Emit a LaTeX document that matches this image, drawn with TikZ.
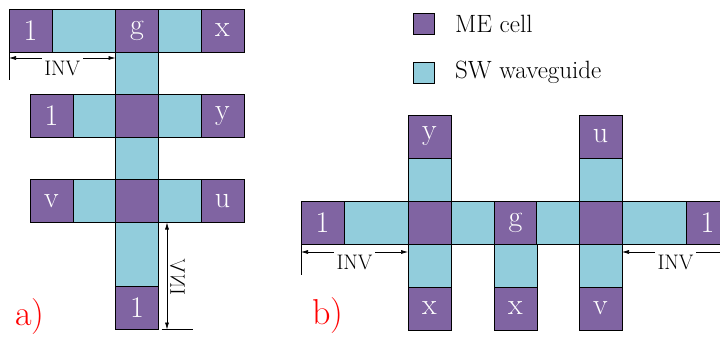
\documentclass[tikz,border=0pt]{standalone}
\usepackage{tikz}
\usetikzlibrary{arrows.meta, calc, positioning}

\definecolor{mepurple}{HTML}{8064A2}
\definecolor{swcyan}{HTML}{92CDDC}

\tikzset{
  cellbase/.style={draw=black, line width=0.8pt, inner sep=0pt, outer sep=0pt,
    minimum width=43pt, minimum height=43pt, text=white, font=\fontsize{30}{32}\selectfont},
  mecell/.style={cellbase, fill=mepurple},
  wguide/.style={cellbase, fill=swcyan},
  dimline/.style={line width=0.6pt, {Latex[length=7pt,width=4pt]}-{Latex[length=7pt,width=4pt]}},
  tickline/.style={line width=1pt},
  invtext/.style={fill=white, inner sep=2.5pt, font=\fontsize{21}{23}\selectfont},
  legendtext/.style={inner sep=3pt, font=\fontsize{25}{27}\selectfont},
  panellabel/.style={text=red, inner sep=0pt, font=\fontsize{36}{38}\selectfont},
}

\begin{document}
\begin{tikzpicture}[x=1pt, y=-1pt]
    \useasboundingbox (0,0) rectangle (720,338);
    \clip (0,0) rectangle (720,338);

    % a) 第一行
    \node[mecell] (a1) at (30.5,30.5) {1};
    \node[wguide, minimum width=64pt] (aw1) at (84,30.5) {};
    \node[mecell] (ag) at (137,30.5) {g};
    \node[wguide] (aw2) at (179.5,30.5) {};
    \node[mecell] (ax) at (222.5,30.5) {x};
    \node[wguide] (at1) at (137,73.5) {};

    % a) 第二行
    \node[mecell] (a1y) at (51.5,116) {1};
    \node[wguide] (aw3) at (94.5,116) {};
    \node[mecell] (ac1) at (137,116) {};
    \node[wguide] (aw4) at (179.5,116) {};
    \node[mecell] (ay) at (222.5,116) {y};
    \node[wguide] (at2) at (137,158.5) {};

    % a) 第三行
    \node[mecell] (av) at (51.5,201) {v};
    \node[wguide] (aw5) at (94.5,201) {};
    \node[mecell] (ac2) at (137,201) {};
    \node[wguide] (aw6) at (179.5,201) {};
    \node[mecell] (au) at (222.5,201) {u};
    \node[wguide, minimum height=65pt] (at3) at (137,254.5) {};
    \node[mecell] (a1b) at (137,308) {1};

    % a) INV 标注
    \coordinate (inva1) at ($(a1.south west)+(0,6)$);
    \coordinate (inva2) at (inva1 -| ag.west);
    \draw[tickline] (a1.south west) -- ++(0,28);
    \draw[dimline] (inva1) -- node[invtext, yshift=-10pt] (invatext) {INV} (inva2);

    \coordinate (invb1) at ($(aw6.south west)+(9,0)$);
    \coordinate (invb2) at (invb1 |- a1b.south);
    \draw[dimline] (invb1) -- (invb2);
    \draw[tickline] ($(a1b.south east)+(3,0)$) -- ++(31,0);
    \node[invtext, fill=none, rotate=90] (invbtext) at (177.5,277) {\scalebox{1}[-1]{INV}};

    % b) 横向波导
    \node[mecell] (b1l) at (322.5,222.5) {1};
    \node[wguide, minimum width=64pt] (bw1) at (376,222.5) {};
    \node[mecell] (bc1) at (429.5,222.5) {};
    \node[wguide] (bw2) at (472.5,222.5) {};
    \node[mecell] (bg) at (515.5,222.5) {g};
    \node[wguide] (bw3) at (558,222.5) {};
    \node[mecell] (bc2) at (600.5,222.5) {};
    \node[wguide, minimum width=64pt] (bw4) at (654,222.5) {};
    \node[mecell] (b1r) at (707.5,222.5) {1};

    % b) 纵向分支
    \node[mecell] (by) at (429.5,136.5) {y};
    \node[wguide] (bt1) at (429.5,179.5) {};
    \node[wguide] (bt2) at (429.5,265.5) {};
    \node[mecell] (bx1) at (429.5,308.5) {x};
    \node[wguide] (bt3) at (515.5,265.5) {};
    \node[mecell] (bx2) at (515.5,308.5) {x};
    \node[mecell] (bu) at (600.5,136.5) {u};
    \node[wguide] (bt4) at (600.5,179.5) {};
    \node[wguide] (bt5) at (600.5,265.5) {};
    \node[mecell] (bv) at (600.5,308.5) {v};

    % b) INV 标注
    \coordinate (invc1) at ($(b1l.south west)+(0,8)$);
    \coordinate (invc2) at (invc1 -| bc1.west);
    \draw[tickline] (b1l.south west) -- ++(0,31);
    \draw[dimline] (invc1) -- node[invtext, yshift=-10pt] (invctext) {INV} (invc2);

    \coordinate (invd1) at ($(bc2.south east)+(0,8)$);
    \coordinate (invd2) at (invd1 -| b1r.east);
    \draw[tickline] (b1r.south east) -- ++(0,31);
    \draw[dimline] (invd1) -- node[invtext, yshift=-10pt] (invdtext) {INV} (invd2);

    % 图例
    \node[mecell, minimum size=21pt] (mesq) at (423.5,23.5) {};
    \node[wguide, minimum size=21pt] (swsq) at (423.5,72.5) {};
    \node[legendtext, right=18pt of mesq] (metext) {ME cell};
    \node[legendtext, right=18pt of swsq] (swtext) {SW waveguide};

    % 子图标号
    \node[panellabel] (alabel) at (30,317) {a)};
    \node[panellabel] (blabel) at (328,316) {b)};
\end{tikzpicture}
\end{document}
